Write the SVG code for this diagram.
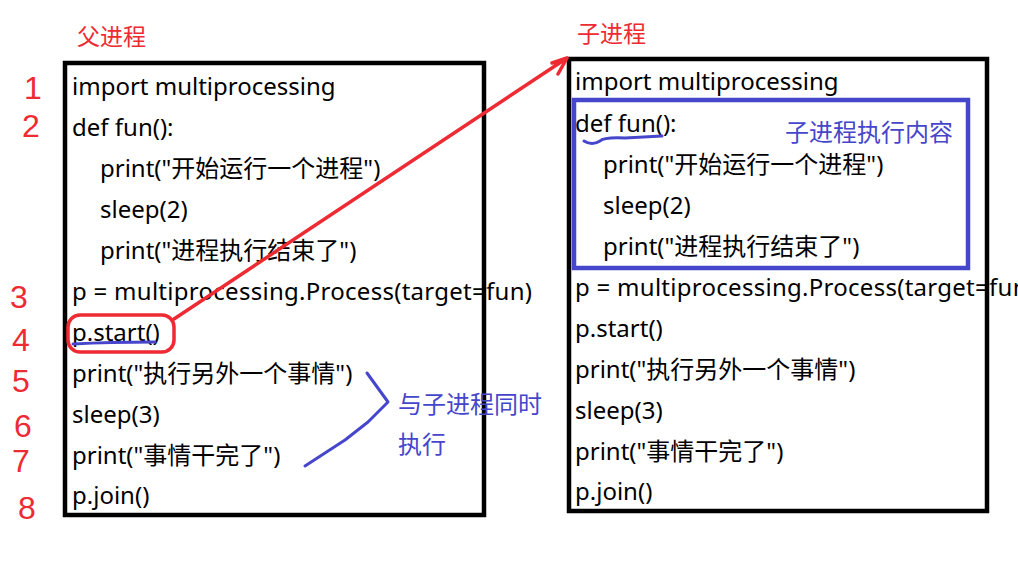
<svg xmlns="http://www.w3.org/2000/svg" width="1018" height="579" viewBox="0 0 1018 579">
<style>
.code{font-family:"Noto Sans","Noto Sans CJK SC",sans-serif;font-size:24px;fill:#000}
.red{font-family:"Noto Sans CJK SC",sans-serif;font-size:23px;fill:#ee2a33}
.blue{font-family:"Noto Sans CJK SC",sans-serif;font-size:24px;fill:#4646cc}
.num{font-family:"Liberation Sans",sans-serif;font-size:32px;fill:#ee2a33}
.box{fill:none;stroke:#000;stroke-width:4.5}
.rs{fill:none;stroke:#ee2a33;stroke-width:3.5;stroke-linecap:round;stroke-linejoin:round}
.bs{fill:none;stroke:#4646cc;stroke-width:3;stroke-linecap:round;stroke-linejoin:round}
</style>
<rect width="1018" height="579" fill="#fff"/>
<g id="parent">
<text class="red" x="77" y="45">父进程</text>
<rect class="box" x="65" y="63" width="419" height="452"/>
<text class="code" x="72" y="95">import multiprocessing</text>
<text class="code" x="72" y="136">def fun():</text>
<text class="code" x="100" y="177">print("开始运行一个进程")</text>
<text class="code" x="100" y="218">sleep(2)</text>
<text class="code" x="100" y="259">print("进程执行结束了")</text>
<text class="code" x="72" y="300" textLength="460" lengthAdjust="spacing">p = multiprocessing.Process(target=fun)</text>
<text class="code" x="72" y="341">p.start()</text>
<text class="code" x="72" y="382">print("执行另外一个事情")</text>
<text class="code" x="72" y="423">sleep(3)</text>
<text class="code" x="72" y="464">print("事情干完了")</text>
<text class="code" x="72" y="504">p.join()</text>
</g>
<g id="numbers">
<text class="num" x="24" y="99">1</text>
<text class="num" x="22" y="137">2</text>
<text class="num" x="10" y="308">3</text>
<text class="num" x="12" y="351">4</text>
<text class="num" x="12" y="392">5</text>
<text class="num" x="14" y="437">6</text>
<text class="num" x="12" y="472">7</text>
<text class="num" x="18" y="519">8</text>
</g>
<g id="child">
<text class="red" x="577" y="42">子进程</text>
<rect class="box" x="569" y="59" width="418" height="452"/>
<text class="code" x="575" y="90">import multiprocessing</text>
<text class="code" x="575" y="132">def fun():</text>
<text class="code" x="603" y="173">print("开始运行一个进程")</text>
<text class="code" x="603" y="214">sleep(2)</text>
<text class="code" x="603" y="255">print("进程执行结束了")</text>
<text class="code" x="575" y="296" textLength="460" lengthAdjust="spacing">p = multiprocessing.Process(target=fun)</text>
<text class="code" x="575" y="337">p.start()</text>
<text class="code" x="575" y="378">print("执行另外一个事情")</text>
<text class="code" x="575" y="419">sleep(3)</text>
<text class="code" x="575" y="460">print("事情干完了")</text>
<text class="code" x="575" y="500">p.join()</text>
</g>
<g id="child-body">
<rect x="574" y="100" width="394" height="168" fill="none" stroke="#4646cc" stroke-width="4.5"/>
<text class="blue" x="785" y="141">子进程执行内容</text>
</g>
<g id="concurrent-note">
<text class="blue" x="398" y="413">与子进程同时</text>
<text class="blue" x="398" y="453">执行</text>
</g>
<g id="connectors">
<rect class="rs" x="68" y="315" width="106" height="37" rx="12"/>
<path class="rs" d="M174 319 L567 58 M552 63 L567 58 L558 74"/>
<path class="bs" d="M73 344 Q110 342 155 342"/>
<path class="bs" d="M584 141 Q592 146 600 141 Q604 137 625 138 L662 136"/>
<path class="bs" d="M367 373 L388 402 L368 422 L345 440 L305 466"/>
</g>
</svg>
